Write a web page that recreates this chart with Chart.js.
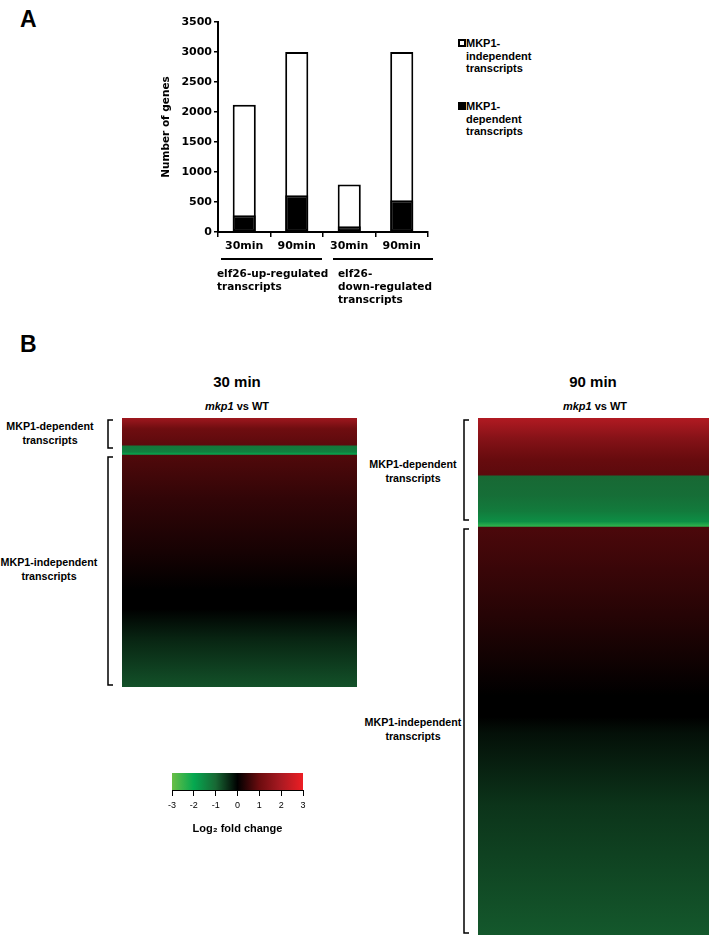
<!DOCTYPE html>
<html>
<head>
<meta charset="utf-8">
<script src="https://cdn.jsdelivr.net/npm/chart.js@4.4.1/dist/chart.umd.min.js"></script>
<style>
  body { margin: 0; background: #fff; }
  #page { position: relative; width: 714px; height: 943px; font-family: "Liberation Sans", Arial, sans-serif; color: #000; overflow: hidden; }
  canvas { position: absolute; }
  .panel { position: absolute; font-weight: bold; font-size: 23px; line-height: 23px; }
  .txt { position: absolute; font-weight: bold; text-align: center; white-space: nowrap; }
  .side { position: absolute; font-weight: bold; font-size: 10.7px; line-height: 13.5px; text-align: center; width: 110px; }
  .leg { position: absolute; font-weight: bold; font-size: 11px; line-height: 12.5px; left: 466px; }
  .sq { position: absolute; left: 458px; width: 8px; height: 8px; box-sizing: border-box; border: 2px solid #000; }
</style>
</head>
<body>
<div id="page">
  <div class="panel" style="left:20px; top:8px;">A</div>
  <div class="panel" style="left:20px; top:333px;">B</div>

  <canvas id="barChart" width="300" height="305" style="left:150px; top:10px;"></canvas>

  <div class="sq" style="top:39px; background:#fff;"></div>
  <div class="leg" style="top:37px;">MKP1-<br>independent<br>transcripts</div>
  <div class="sq" style="top:102px; background:#000;"></div>
  <div class="leg" style="top:100px;">MKP1-<br>dependent<br>transcripts</div>

  <div class="txt" style="left:137px; top:373px; width:200px; font-size:15px; line-height:18px;">30 min</div>
  <div class="txt" style="left:137px; top:400px; width:200px; font-size:11px; line-height:13px;"><i>mkp1</i> vs WT</div>
  <div class="txt" style="left:493px; top:373px; width:200px; font-size:15px; line-height:18px;">90 min</div>
  <div class="txt" style="left:495px; top:400px; width:200px; font-size:11px; line-height:13px;"><i>mkp1</i> vs WT</div>

  <div class="side" style="left:-5px; top:420px;">MKP1-dependent<br>transcripts</div>
  <div class="side" style="left:-6px; top:556px;">MKP1-independent<br>transcripts</div>
  <div class="side" style="left:358px; top:458px;">MKP1-dependent<br>transcripts</div>
  <div class="side" style="left:358px; top:716px;">MKP1-independent<br>transcripts</div>

  <canvas id="heat30" width="360" height="282" style="left:0px; top:410px;"></canvas>
  <canvas id="heat90" width="344" height="530" style="left:370px; top:410px;"></canvas>
  <canvas id="colorBar" width="175" height="77" style="left:150px; top:763px;"></canvas>
</div>

<script>
// panel A: number of genes per condition
const timeLabels = ['30min', '90min', '30min', '90min'];
const dependentGenes = [280, 612, 95, 528];
const independentGenes = [1840, 2388, 695, 2472];
const groupLines = [['elf26-up-regulated', 'transcripts'], ['elf26-', 'down-regulated', 'transcripts']];

// colour scale for log2 fold change
const scaleValues = [-3, -2, -1, 0, 1, 2, 3];
const scaleColors = [[105, 190, 70], [5, 168, 80], [24, 104, 52], [0, 0, 0], [108, 12, 15], [170, 26, 34], [237, 30, 36]];

// heat maps: row position (% of rows from top) and log2 fold change at that row
const heat30Pos = [0, 4, 10, 10, 12.5, 13.4, 13.4, 30, 50, 64, 71, 82, 100];
const heat30Fc = [1.8, 1.05, 0.85, -1.2, -1.35, -1.9, 0.75, 0.45, 0.2, 0, 0, -0.35, -0.78];
const heat30Groups = [[0, 13.4], [13.4, 100]];

const heat90Pos = [0, 4, 8, 11, 11, 15, 18, 20, 20.9, 20.9, 38, 53.6, 57.8, 61, 75, 100];
const heat90Fc = [2.1, 1.4, 0.95, 0.85, -1.0, -1.1, -1.3, -1.6, -2.4, 0.7, 0.35, 0, 0, -0.15, -0.5, -0.85];
const heat90Groups = [[0, 20.9], [20.9, 100]];

Chart.defaults.font.family = '"Liberation Sans", Arial, sans-serif';
Chart.defaults.color = '#000';

function fcColor(v) {
  v = Math.max(scaleValues[0], Math.min(scaleValues[scaleValues.length - 1], v));
  let i = 0;
  while (i < scaleValues.length - 2 && v > scaleValues[i + 1]) i++;
  const t = (v - scaleValues[i]) / (scaleValues[i + 1] - scaleValues[i]);
  const a = scaleColors[i], b = scaleColors[i + 1];
  const c = a.map((x, k) => Math.round(x + (b[k] - x) * t));
  return `rgb(${c[0]},${c[1]},${c[2]})`;
}

// group underlines and labels below the x axis
const groupPlugin = {
  id: 'groups',
  afterDraw(chart) {
    const ctx = chart.ctx, x = chart.scales.x, bottom = chart.chartArea.bottom;
    const step = x.getPixelForValue(1) - x.getPixelForValue(0);
    ctx.save();
    ctx.font = 'bold 10.5px "DejaVu Sans"';
    ctx.textBaseline = 'middle';
    ctx.fillStyle = '#000';
    ctx.strokeStyle = '#000';
    ctx.lineWidth = 2;
    groupLines.forEach((lines, i) => {
      const left = x.getPixelForValue(2 * i) - step / 2;
      const right = x.getPixelForValue(2 * i + 1) + step / 2;
      ctx.beginPath();
      ctx.moveTo(left + 3 + i * 7, bottom + 27);
      ctx.lineTo(right - 1 + i * 6, bottom + 27);
      ctx.stroke();
      lines.forEach((t, j) => ctx.fillText(t, left - 1 + i * 16, bottom + 42 + j * 13));
    });
    ctx.restore();
  }
};

// the white bar is the full column, the black part is laid over its base
const totalGenes = dependentGenes.map((d, i) => d + independentGenes[i]);

new Chart(document.getElementById('barChart'), {
  type: 'bar',
  data: {
    labels: timeLabels,
    datasets: [
      {
        label: 'MKP1-dependent transcripts',
        data: dependentGenes,
        backgroundColor: '#000',
        borderColor: '#000',
        borderWidth: 2,
        borderSkipped: false,
        grouped: false
      },
      {
        label: 'MKP1-independent transcripts',
        data: totalGenes,
        backgroundColor: '#fff',
        borderColor: '#000',
        borderWidth: 2,
        borderSkipped: false,
        grouped: false
      }
    ]
  },
  options: {
    responsive: false,
    animation: false,
    layout: { padding: { top: 12, bottom: 53, left: 0, right: 22 } },
    datasets: { bar: { categoryPercentage: 1, barPercentage: 0.44 } },
    plugins: { legend: { display: false }, tooltip: { enabled: false } },
    scales: {
      x: {
        grid: { drawOnChartArea: false, tickLength: 5, color: '#000', lineWidth: 1.5 },
        border: { color: '#000', width: 2 },
        ticks: { font: { family: '"DejaVu Sans"', size: 11, weight: 'bold' }, padding: 3 },
        afterFit: s => { s.height = 30; }
      },
      y: {
        min: 0,
        max: 3500,
        ticks: {
          stepSize: 500,
          callback: v => String(v),
          font: { family: '"DejaVu Sans"', size: 11, weight: 'bold' },
          padding: 2
        },
        grid: { drawOnChartArea: false, tickLength: 4, color: '#000', lineWidth: 1.5 },
        border: { color: '#000', width: 2 },
        title: { display: true, text: 'Number of genes', font: { family: '"DejaVu Sans"', size: 10.5, weight: 'bold' }, padding: 10 },
        afterFit: s => { s.width = 68; }
      }
    }
  },
  plugins: [groupPlugin]
});

// brackets to the left of each heat map
const bracketPlugin = {
  id: 'brackets',
  afterDraw(chart, args, opts) {
    const ctx = chart.ctx, y = chart.scales.y, x0 = chart.chartArea.left - 14;
    ctx.save();
    ctx.strokeStyle = '#000';
    ctx.lineWidth = 1.5;
    opts.spans.forEach(([a, b], i) => {
      const top = y.getPixelForValue(a) + (i ? 3 : 2);
      const bot = y.getPixelForValue(b) - (i ? 2 : 6);
      ctx.beginPath();
      ctx.moveTo(x0 + 5, top);
      ctx.lineTo(x0, top);
      ctx.lineTo(x0, bot);
      ctx.lineTo(x0 + 5, bot);
      ctx.stroke();
    });
    ctx.restore();
  }
};

function heatmap(id, pos, fc, spans, padding) {
  const datasets = [];
  for (let i = 0; i < pos.length - 1; i++) {
    if (pos[i + 1] <= pos[i]) continue;
    const from = pos[i], to = pos[i + 1], c0 = fc[i], c1 = fc[i + 1];
    datasets.push({
      data: [[from, to]],
      grouped: false,
      borderWidth: 0,
      inflateAmount: 0.6,
      backgroundColor: ctx => {
        const ch = ctx.chart;
        if (!ch.chartArea) return 'rgba(0,0,0,0)';
        const ys = ch.scales.y;
        const g = ch.ctx.createLinearGradient(0, ys.getPixelForValue(from), 0, ys.getPixelForValue(to));
        g.addColorStop(0, fcColor(c0));
        g.addColorStop(1, fcColor(c1));
        return g;
      }
    });
  }
  new Chart(document.getElementById(id), {
    type: 'bar',
    data: { labels: ['mkp1 vs WT'], datasets },
    options: {
      responsive: false,
      animation: false,
      layout: { padding },
      datasets: { bar: { categoryPercentage: 1, barPercentage: 1 } },
      plugins: { legend: { display: false }, tooltip: { enabled: false }, brackets: { spans } },
      scales: {
        x: { display: false },
        y: { display: false, reverse: true, min: 0, max: 100 }
      }
    },
    plugins: [bracketPlugin]
  });
}

heatmap('heat30', heat30Pos, heat30Fc, heat30Groups, { left: 122, right: 3, top: 8, bottom: 5 });
heatmap('heat90', heat90Pos, heat90Fc, heat90Groups, { left: 108, right: 5, top: 8, bottom: 5 });

// colour key
new Chart(document.getElementById('colorBar'), {
  type: 'bar',
  data: {
    labels: ['key'],
    datasets: [{
      data: [[scaleValues[0], scaleValues[scaleValues.length - 1]]],
      borderWidth: 0,
      backgroundColor: ctx => {
        const ch = ctx.chart;
        if (!ch.chartArea) return 'rgba(0,0,0,0)';
        const xs = ch.scales.x;
        const x0 = xs.getPixelForValue(scaleValues[0]);
        const x1 = xs.getPixelForValue(scaleValues[scaleValues.length - 1]);
        const g = ch.ctx.createLinearGradient(x0, 0, x1, 0);
        scaleValues.forEach(v => g.addColorStop((v - scaleValues[0]) / (scaleValues[scaleValues.length - 1] - scaleValues[0]), fcColor(v)));
        return g;
      }
    }]
  },
  options: {
    indexAxis: 'y',
    responsive: false,
    animation: false,
    layout: { padding: { left: 22, right: 22, top: 10, bottom: 0 } },
    datasets: { bar: { categoryPercentage: 1, barPercentage: 1 } },
    plugins: { legend: { display: false }, tooltip: { enabled: false } },
    scales: {
      y: { display: false },
      x: {
        min: -3,
        max: 3,
        ticks: { stepSize: 1, font: { size: 9 }, padding: 4 },
        grid: { drawOnChartArea: false, tickLength: 6, color: '#000', lineWidth: 1 },
        border: { color: '#000', width: 1 },
        title: { display: true, text: 'Log₂ fold change', font: { size: 11, weight: 'bold' }, padding: 4 },
        afterFit: s => { s.height = 50; }
      }
    }
  }
});
</script>
</body>
</html>
